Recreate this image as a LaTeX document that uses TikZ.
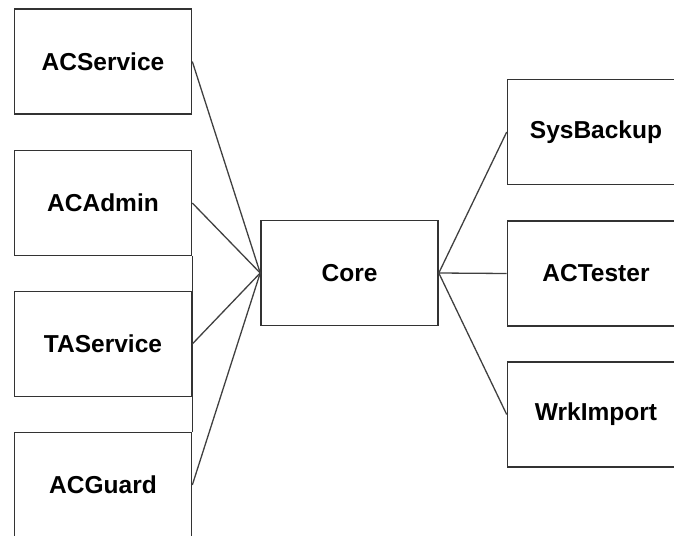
\documentclass[tikz,border=0pt]{standalone}
\usepackage{fontspec}
\setmainfont{Liberation Sans}
\usepackage{tikz}
\usetikzlibrary{positioning}

\begin{document}
\begin{tikzpicture}[x=1pt,y=-1pt,
    module/.style={draw=black!80,line width=1.6pt,minimum width=177pt,minimum height=105pt,
      inner sep=0pt,font=\fontsize{24.5}{28}\selectfont\bfseries},
    link/.style={draw=black!75,line width=1.3pt}]
  \useasboundingbox (0,0) rectangle (674,535);
  % client modules on the left
  \node[module] (acservice) at (103,61.5) {ACService};
  \node[module] (acadmin) at (103,203) {ACAdmin};
  \node[module] (taservice) at (103,344) {TAService};
  \node[module] (acguard) at (103,485) {ACGuard};
  % shared core
  \node[module] (core) at (349.5,273) {Core};
  % tools on the right
  \node[module] (sysbackup) at (596,132) {SysBackup};
  \node[module] (actester) at (596,273.5) {ACTester};
  \node[module] (wrkimport) at (596,414.5) {WrkImport};
  \draw[draw=black!80,line width=1.6pt] (acadmin.south east) -- (acguard.north east);
  \draw[link] (acservice.east) -- (core.west);
  \draw[link] (acadmin.east) -- (core.west);
  \draw[link] (taservice.east) -- (core.west);
  \draw[link] (acguard.east) -- (core.west);
  \draw[link] (core.east) -- (sysbackup.west);
  \draw[link] (core.east) -- (actester.west);
  \draw[link] (core.east) -- (wrkimport.west);
\end{tikzpicture}
\end{document}
